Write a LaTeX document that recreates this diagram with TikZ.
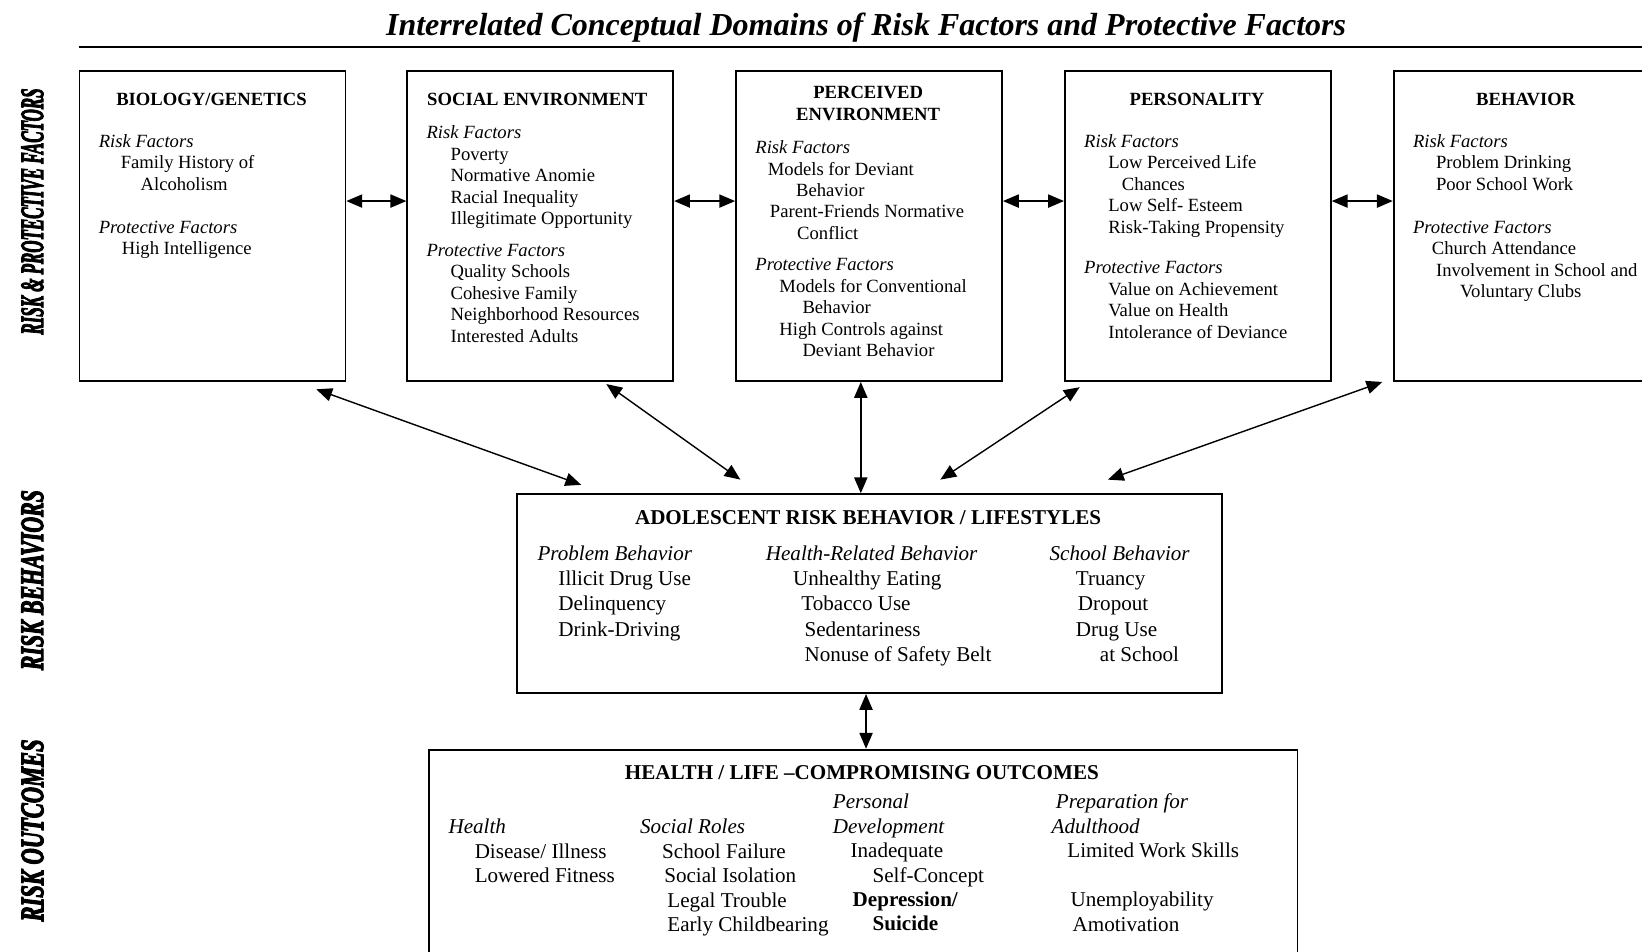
\documentclass[tikz,border=0pt]{standalone}
\usepackage{fontspec}
\setmainfont{Liberation Serif}
\newfontfamily\sidefont[FakeBold=4]{Liberation Serif Bold Italic}
\usepackage{graphicx}
\usepackage{tikz}
\usetikzlibrary{calc,arrows.meta}

\begin{document}
\begin{tikzpicture}[x=0.02094cm,y=-0.02094cm]
      \tikzset{domain box/.style={draw,
          line width=1pt,
          anchor=north west,
          inner sep=0pt,
          minimum width=5.319cm,
          minimum height=6.198cm},
        factor text/.style={anchor=north west,
          align=left,
          inner sep=0pt,
          font=\fontsize{10.6}{12.2}\selectfont},
        domain title/.style={anchor=base,
          align=center,
          inner sep=0pt,
          font=\fontsize{10.6}{12.2}\selectfont\bfseries},
        behavior text/.style={anchor=north west,
          align=left,
          inner sep=0pt,
          font=\fontsize{12}{14.3}\selectfont},
        outcome text/.style={anchor=north west,
          align=left,
          inner sep=0pt,
          font=\fontsize{12}{13.9}\selectfont},
        side label/.style={rotate=90,
          inner sep=0pt,
          font=\fontsize{18}{18}\sidefont},
        link/.style={line width=0.8pt,
          {Triangle[length=9pt,width=7.5pt]}-{Triangle[length=9pt,width=7.5pt]}}
      }
      \useasboundingbox (0,0) rectangle (1568,909);

      % title and rule
      \node [anchor=base, inner sep=0pt, font=\fontsize{18.2}{20}\selectfont\bfseries\itshape] (title) at (827,34)
        {Interrelated Conceptual Domains of Risk Factors and Protective Factors};
      \draw [line width=1pt] (75,45) -- (1580,45);

      % row labels
      \node [side label] (lblfactors) at (31,202) {\resizebox{140pt}{12.3pt}{RISK \& PROTECTIVE FACTORS}};
      \node [side label] (lblbehav) at (31,554) {\resizebox{102.4pt}{12.3pt}{RISK BEHAVIORS}};
      \node [side label] (lblout) at (31,793) {\resizebox{103.6pt}{12.3pt}{RISK OUTCOMES}};

      % domains
      \node [domain box] (bio) at (75,67) {};
      \node [domain box] (soc) at (388,67) {};
      \node [domain box] (per) at (702,67) {};
      \node [domain box] (pers) at (1016,67) {};
      \node [domain box] (beh) at (1330,67) {};

      \node [domain title] (biotitle) at (202,101) {BIOLOGY/GENETICS};
      \node [factor text] (biotext) at (94,128) {\textit{Risk Factors}\\
        \hspace*{12.5pt}Family History of\\
        \hspace*{23.8pt}Alcoholism\\[12.2pt]
        \textit{Protective Factors}\\
        \hspace*{13.1pt}High Intelligence};

      \node [domain title] (soctitle) at (513,101) {SOCIAL ENVIRONMENT};
      \node [factor text] (soctext) at (407,120) {\textit{Risk Factors}\\
        \hspace*{13.7pt}Poverty\\
        \hspace*{13.7pt}Normative Anomie\\
        \hspace*{13.7pt}Racial Inequality\\
        \hspace*{13.7pt}Illegitimate Opportunity\\[5.7pt]
        \textit{Protective Factors}\\
        \hspace*{13.7pt}Quality Schools\\
        \hspace*{13.7pt}Cohesive Family\\
        \hspace*{13.7pt}Neighborhood Resources\\
        \hspace*{13.7pt}Interested Adults};

      \node [domain title] (pertitle) at (829,115) {PERCEIVED\\ENVIRONMENT};
      \node [factor text] (pertext) at (721,134) {\textit{Risk Factors}\\
        \hspace*{7.1pt}Models for Deviant\\
        \hspace*{23.2pt}Behavior\\
        \hspace*{8.3pt}Parent-Friends Normative\\
        \hspace*{23.8pt}Conflict\\[5.7pt]
        \textit{Protective Factors}\\
        \hspace*{13.7pt}Models for Conventional\\
        \hspace*{26.8pt}Behavior\\
        \hspace*{13.7pt}High Controls against\\
        \hspace*{26.8pt}Deviant Behavior};

      \node [domain title] (perstitle) at (1143,101) {PERSONALITY};
      \node [factor text] (perstext) at (1035,128) {\textit{Risk Factors}\\
        \hspace*{13.7pt}Low Perceived Life\\
        \hspace*{21.4pt}Chances\\
        \hspace*{13.7pt}Low Self- Esteem\\
        \hspace*{13.7pt}Risk-Taking Propensity\\[11pt]
        \textit{Protective Factors}\\
        \hspace*{13.7pt}Value on Achievement\\
        \hspace*{13.7pt}Value on Health\\
        \hspace*{13.7pt}Intolerance of Deviance};

      \node [domain title] (behtitle) at (1457,101) {BEHAVIOR};
      \node [factor text] (behtext) at (1349,128) {\textit{Risk Factors}\\
        \hspace*{13.1pt}Problem Drinking\\
        \hspace*{13.1pt}Poor School Work\\[12.2pt]
        \textit{Protective Factors}\\
        \hspace*{10.7pt}Church Attendance\\
        \hspace*{13.1pt}Involvement in School and\\
        \hspace*{26.8pt}Voluntary Clubs};

      % risk behaviors
      \node [draw, line width=1pt, anchor=north west, inner sep=0pt,
        minimum width=14.093cm, minimum height=3.979cm] (mid) at (493,471) {};
      \node [anchor=base, inner sep=0pt, font=\fontsize{12}{14.3}\selectfont\bfseries] (midtitle) at (829,501)
        {ADOLESCENT RISK BEHAVIOR / LIFESTYLES};
      \node [behavior text] (problem) at (513,521) {\textit{Problem Behavior}\\
        \hspace*{11.9pt}Illicit Drug Use\\
        \hspace*{11.9pt}Delinquency\\
        \hspace*{11.9pt}Drink-Driving};
      \node [behavior text] (healthrel) at (731,521) {\textit{Health-Related Behavior}\\
        \hspace*{15.5pt}Unhealthy Eating\\
        \hspace*{20.2pt}Tobacco Use\\
        \hspace*{22pt}Sedentariness\\
        \hspace*{22pt}Nonuse of Safety Belt};
      \node [behavior text] (school) at (1002,521) {\textit{School Behavior}\\
        \hspace*{14.9pt}Truancy\\
        \hspace*{16.1pt}Dropout\\
        \hspace*{14.9pt}Drug Use\\
        \hspace*{28.6pt}at School};

      % risk outcomes
      \node [draw, line width=1pt, anchor=north west, inner sep=0pt,
        minimum width=17.36cm, minimum height=4.6cm] (out) at (409,715) {};
      \node [anchor=base, inner sep=0pt, font=\fontsize{12}{13.9}\selectfont\bfseries] (outtitle) at (823,744)
        {HEALTH / LIFE –COMPROMISING OUTCOMES};
      \node [outcome text] (health) at (428,782) {\textit{Health}\\
        \hspace*{14.9pt}Disease/ Illness\\
        \hspace*{14.9pt}Lowered Fitness};
      \node [outcome text] (roles) at (611,782) {\textit{Social Roles}\\
        \hspace*{12.5pt}School Failure\\
        \hspace*{13.7pt}Social Isolation\\
        \hspace*{15.5pt}Legal Trouble\\
        \hspace*{15.5pt}Early Childbearing};
      \node [outcome text] (personal) at (795,758) {\textit{Personal}\\
        \textit{Development}\\
        \hspace*{10.1pt}Inadequate\\
        \hspace*{22.6pt}Self-Concept\\
        \hspace*{11.3pt}\textbf{Depression/}\\
        \hspace*{22.6pt}\textbf{Suicide}};
      \node [outcome text] (adult) at (1004,758) {\hspace*{2.4pt}\textit{Preparation for}\\
        \textit{Adulthood}\\
        \hspace*{8.9pt}Limited Work Skills\\[13.9pt]
        \hspace*{10.7pt}Unemployability\\
        \hspace*{11.9pt}Amotivation};

      % links between domains
      \draw [link] ($(bio.north east)+(0,125)$) -- ($(soc.north west)+(0,125)$);
      \draw [link] ($(soc.north east)+(0,125)$) -- ($(per.north west)+(0,125)$);
      \draw [link] ($(per.north east)+(0,125)$) -- ($(pers.north west)+(0,125)$);
      \draw [link] ($(pers.north east)+(0,125)$) -- ($(beh.north west)+(0,125)$);

      \draw [link] ($(bio.south west)+(227,7)$) -- ($(mid.north west)+(62,-8)$);
      \draw [link] ($(soc.south west)+(191,2)$) -- ($(mid.north west)+(214,-13)$);
      \draw [link] ($(per.south west)+(120,0)$) -- ($(mid.north west)+(329,0)$);
      \draw [link] ($(pers.south west)+(15,5)$) -- ($(mid.north west)+(405,-13)$);
      \draw [link] ($(beh.south west)+(-10,0)$) -- ($(mid.north west)+(565,-13)$);
      \draw [link] ($(mid.south west)+(334,0)$) -- ($(out.north west)+(418,0)$);

    \end{tikzpicture}
\end{document}
